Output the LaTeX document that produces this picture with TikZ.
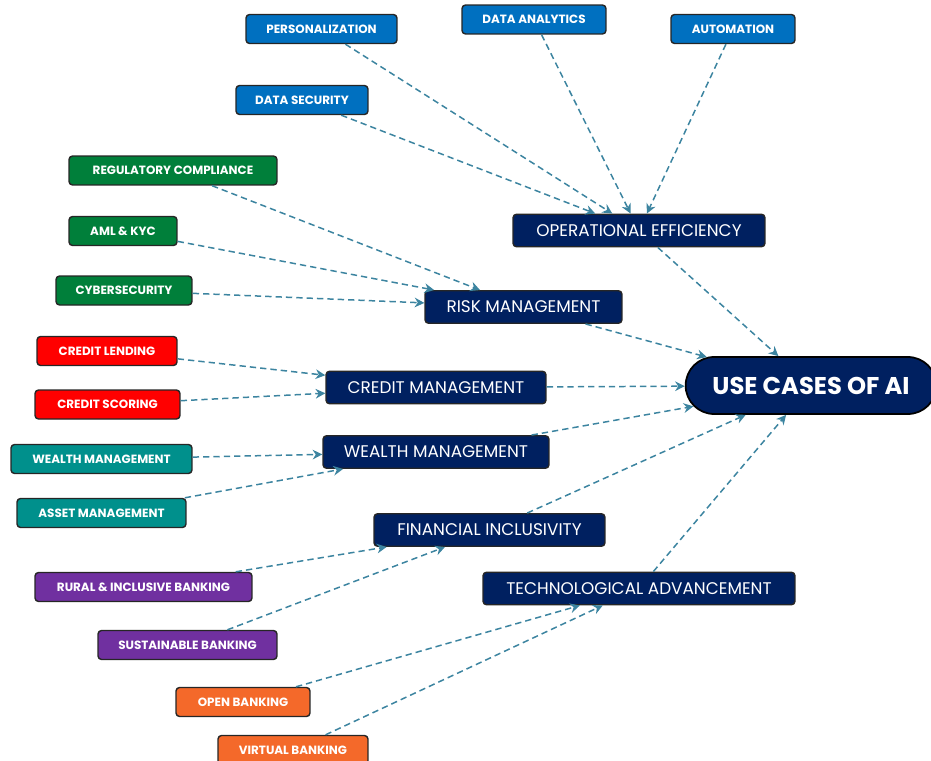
\documentclass[tikz,border=0pt]{standalone}
\usepackage{fontspec}
\setmainfont{Poppins}
\usetikzlibrary{arrows.meta,shapes.misc}

\definecolor{opblue}{HTML}{0070C0}
\definecolor{riskgreen}{HTML}{007F3A}
\definecolor{creditred}{HTML}{FF0000}
\definecolor{wealthteal}{HTML}{00908C}
\definecolor{inclpurple}{HTML}{7030A0}
\definecolor{techorange}{HTML}{F4692A}
\definecolor{hubnavy}{HTML}{002060}
\definecolor{linkteal}{HTML}{3C84A0}

\begin{document}
\begin{tikzpicture}[x=0.02cm,y=-0.02cm]

\tikzset{
	leaf/.style={draw=black!85, line width=0.8pt, rounded corners=2pt, text=white,
      inner sep=0pt, minimum height=0.58cm, font=\fontsize{6.8}{8}\selectfont\bfseries},
	hub/.style={draw=black!85, line width=0.8pt, rounded corners=2pt, fill=hubnavy, text=white,
      inner sep=0pt, minimum height=0.65cm, font=\fontsize{9.6}{11}\selectfont},
	link/.style={draw=linkteal, line width=0.85pt, dash pattern=on 3.6pt off 2.3pt,
      -{Stealth[length=5.5pt,width=5.5pt]}}
}

\useasboundingbox (0,0) rectangle (931,761);

% root
\node[rounded rectangle, draw=black, line width=1pt, fill=hubnavy, text=white,
      minimum width=5.25cm, minimum height=1.14cm, font=\fontsize{13.8}{16}\selectfont\bfseries]
      (ai) at (811,385.5) {USE CASES OF AI};

% second level
\node[hub, minimum width=5.04cm] (opeff)  at (639,230.5) {OPERATIONAL EFFICIENCY};
\node[hub, minimum width=3.94cm] (risk)   at (523.5,307) {RISK MANAGEMENT};
\node[hub, minimum width=4.40cm] (credit) at (436,387.5) {CREDIT MANAGEMENT};
\node[hub, minimum width=4.52cm] (wealth) at (436,452) {WEALTH MANAGEMENT};
\node[hub, minimum width=4.62cm] (incl)   at (489.5,530) {FINANCIAL INCLUSIVITY};
\node[hub, minimum width=6.24cm] (tech)   at (639,588.5) {TECHNOLOGICAL ADVANCEMENT};

% leaves
\node[leaf, fill=opblue, minimum width=3.02cm] (pers)     at (321.5,29) {PERSONALIZATION};
\node[leaf, fill=opblue, minimum width=2.88cm] (analytic) at (534,19.5) {DATA ANALYTICS};
\node[leaf, fill=opblue, minimum width=2.48cm] (auto)     at (733,29) {AUTOMATION};
\node[leaf, fill=opblue, minimum width=2.64cm] (datasec)  at (302,100) {DATA SECURITY};

\node[leaf, fill=riskgreen, minimum width=4.16cm] (regcomp) at (173,170.5) {REGULATORY COMPLIANCE};
\node[leaf, fill=riskgreen, minimum width=2.16cm] (amlkyc)  at (123,231) {AML \& KYC};
\node[leaf, fill=riskgreen, minimum width=2.72cm] (cyber)   at (124,290.5) {CYBERSECURITY};

\node[leaf, fill=creditred, minimum width=2.80cm] (lending) at (107,351) {CREDIT LENDING};
\node[leaf, fill=creditred, minimum width=2.90cm] (scoring) at (107.5,404.5) {CREDIT SCORING};

\node[leaf, fill=wealthteal, minimum width=3.62cm] (wealthmg) at (101.5,459) {WEALTH MANAGEMENT};
\node[leaf, fill=wealthteal, minimum width=3.38cm] (assetmg)  at (101.5,513) {ASSET MANAGEMENT};

\node[leaf, fill=inclpurple, minimum width=4.34cm] (rural)  at (143.5,587) {RURAL \& INCLUSIVE BANKING};
\node[leaf, fill=inclpurple, minimum width=3.58cm] (sustain) at (187.5,645) {SUSTAINABLE BANKING};

\node[leaf, fill=techorange, minimum width=2.68cm] (openbk)    at (243,702) {OPEN BANKING};
\node[leaf, fill=techorange, minimum width=3.00cm] (virtualbk) at (293,750) {VIRTUAL BANKING};

% connectors
\foreach \src/\dst in {pers/opeff, datasec/opeff, analytic/opeff, auto/opeff,
    regcomp/risk, amlkyc/risk, cyber/risk,
    lending/credit, scoring/credit,
    wealthmg/wealth, assetmg/wealth,
    rural/incl, sustain/incl,
    openbk/tech, virtualbk/tech,
    opeff/ai, risk/ai, credit/ai, wealth/ai, incl/ai, tech/ai}
  \draw[link] (\src) -- (\dst);

\end{tikzpicture}
\end{document}
